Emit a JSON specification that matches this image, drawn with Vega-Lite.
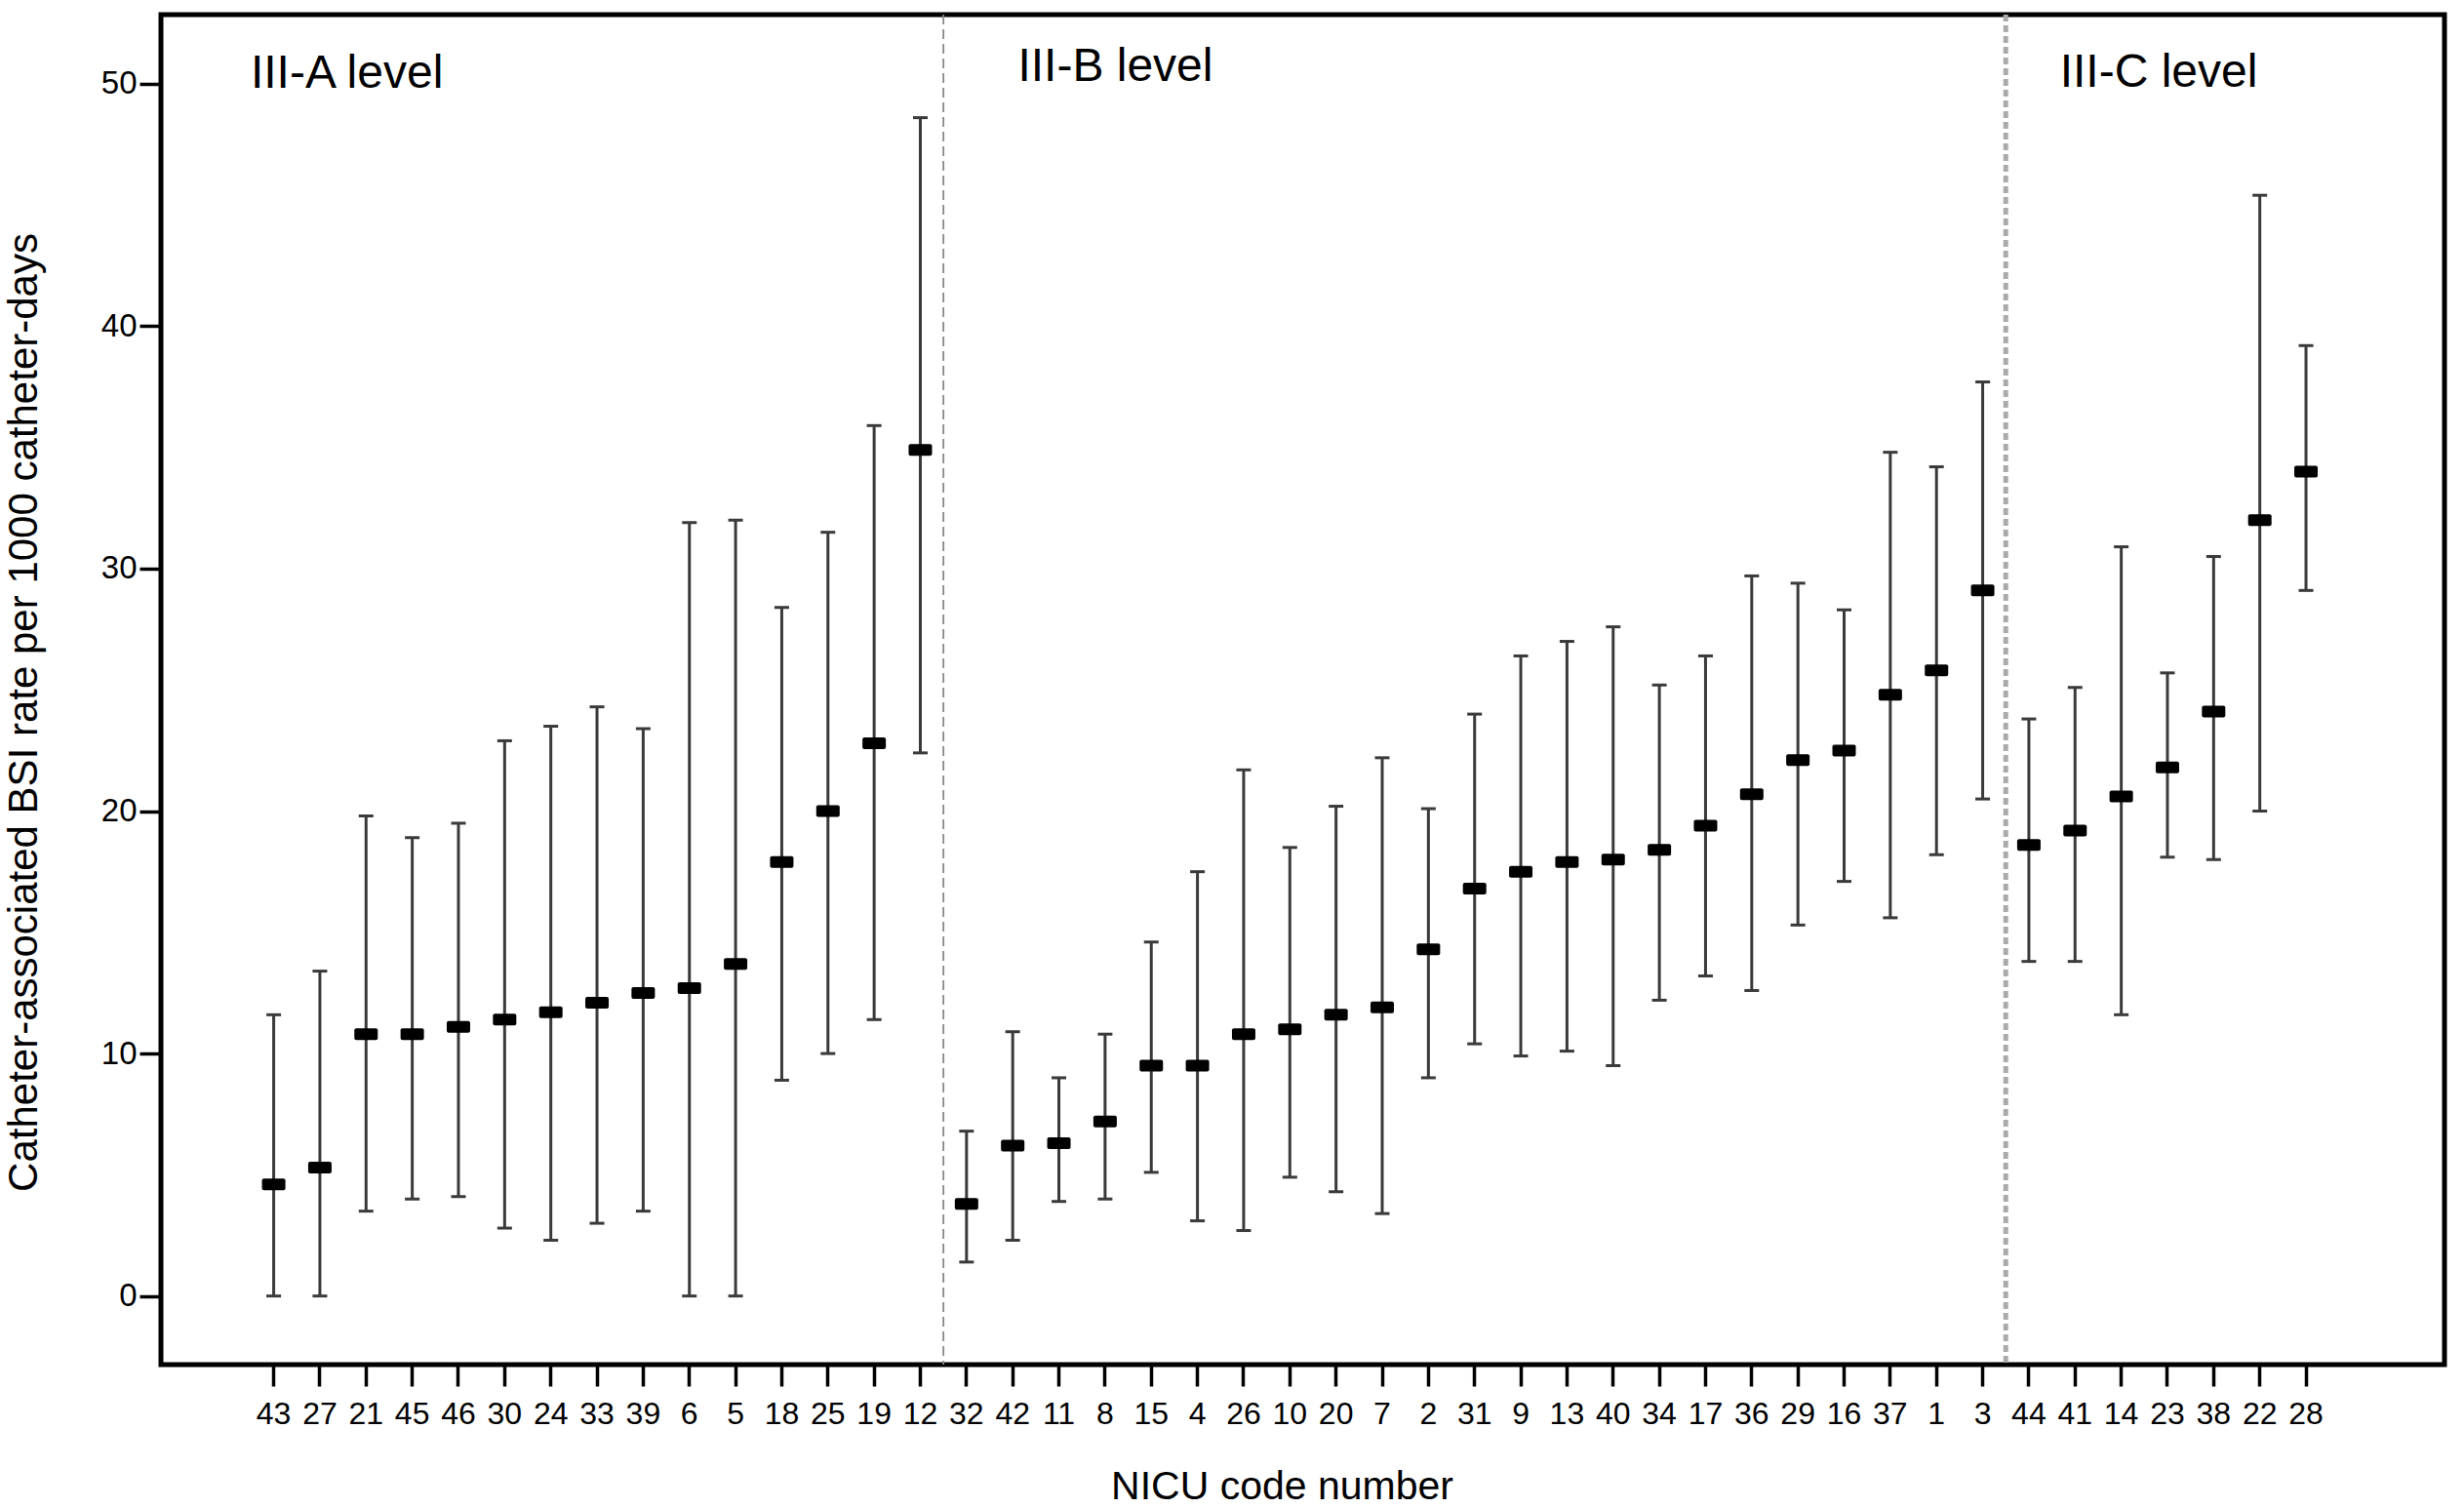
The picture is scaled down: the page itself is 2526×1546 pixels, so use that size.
{
  "$schema": "https://vega.github.io/schema/vega-lite/v6.json",
  "width": 2341,
  "height": 1384,
  "autosize": {"type": "none"},
  "padding": {"left": 165, "top": 15, "right": 20, "bottom": 147},
  "background": "white",
  "config": {
    "font": "Liberation Sans",
    "view": {"stroke": "#000000", "strokeWidth": 5},
    "axis": {"domain": false, "grid": false, "tickColor": "#000000", "labelColor": "#000000", "titleColor": "#000000", "labelFont": "Liberation Sans", "titleFont": "Liberation Sans", "titleFontWeight": "normal"}
  },
  "datasets": {
    "bars": [
      {"code": "43", "level": "III-A", "rate": 4.6, "lower": 0, "upper": 11.6},
      {"code": "27", "level": "III-A", "rate": 5.3, "lower": 0, "upper": 13.4},
      {"code": "21", "level": "III-A", "rate": 10.8, "lower": 3.5, "upper": 19.8},
      {"code": "45", "level": "III-A", "rate": 10.8, "lower": 4.0, "upper": 18.9},
      {"code": "46", "level": "III-A", "rate": 11.1, "lower": 4.1, "upper": 19.5},
      {"code": "30", "level": "III-A", "rate": 11.4, "lower": 2.8, "upper": 22.9},
      {"code": "24", "level": "III-A", "rate": 11.7, "lower": 2.3, "upper": 23.5},
      {"code": "33", "level": "III-A", "rate": 12.1, "lower": 3.0, "upper": 24.3},
      {"code": "39", "level": "III-A", "rate": 12.5, "lower": 3.5, "upper": 23.4},
      {"code": "6", "level": "III-A", "rate": 12.7, "lower": 0, "upper": 31.9},
      {"code": "5", "level": "III-A", "rate": 13.7, "lower": 0, "upper": 32.0},
      {"code": "18", "level": "III-A", "rate": 17.9, "lower": 8.9, "upper": 28.4},
      {"code": "25", "level": "III-A", "rate": 20.0, "lower": 10.0, "upper": 31.5},
      {"code": "19", "level": "III-A", "rate": 22.8, "lower": 11.4, "upper": 35.9},
      {"code": "12", "level": "III-A", "rate": 34.9, "lower": 22.4, "upper": 48.6},
      {"code": "32", "level": "III-B", "rate": 3.8, "lower": 1.4, "upper": 6.8},
      {"code": "42", "level": "III-B", "rate": 6.2, "lower": 2.3, "upper": 10.9},
      {"code": "11", "level": "III-B", "rate": 6.3, "lower": 3.9, "upper": 9.0},
      {"code": "8", "level": "III-B", "rate": 7.2, "lower": 4.0, "upper": 10.8},
      {"code": "15", "level": "III-B", "rate": 9.5, "lower": 5.1, "upper": 14.6},
      {"code": "4", "level": "III-B", "rate": 9.5, "lower": 3.1, "upper": 17.5},
      {"code": "26", "level": "III-B", "rate": 10.8, "lower": 2.7, "upper": 21.7},
      {"code": "10", "level": "III-B", "rate": 11.0, "lower": 4.9, "upper": 18.5},
      {"code": "20", "level": "III-B", "rate": 11.6, "lower": 4.3, "upper": 20.2},
      {"code": "7", "level": "III-B", "rate": 11.9, "lower": 3.4, "upper": 22.2},
      {"code": "2", "level": "III-B", "rate": 14.3, "lower": 9.0, "upper": 20.1},
      {"code": "31", "level": "III-B", "rate": 16.8, "lower": 10.4, "upper": 24.0},
      {"code": "9", "level": "III-B", "rate": 17.5, "lower": 9.9, "upper": 26.4},
      {"code": "13", "level": "III-B", "rate": 17.9, "lower": 10.1, "upper": 27.0},
      {"code": "40", "level": "III-B", "rate": 18.0, "lower": 9.5, "upper": 27.6},
      {"code": "34", "level": "III-B", "rate": 18.4, "lower": 12.2, "upper": 25.2},
      {"code": "17", "level": "III-B", "rate": 19.4, "lower": 13.2, "upper": 26.4},
      {"code": "36", "level": "III-B", "rate": 20.7, "lower": 12.6, "upper": 29.7},
      {"code": "29", "level": "III-B", "rate": 22.1, "lower": 15.3, "upper": 29.4},
      {"code": "16", "level": "III-B", "rate": 22.5, "lower": 17.1, "upper": 28.3},
      {"code": "37", "level": "III-B", "rate": 24.8, "lower": 15.6, "upper": 34.8},
      {"code": "1", "level": "III-B", "rate": 25.8, "lower": 18.2, "upper": 34.2},
      {"code": "3", "level": "III-B", "rate": 29.1, "lower": 20.5, "upper": 37.7},
      {"code": "44", "level": "III-C", "rate": 18.6, "lower": 13.8, "upper": 23.8},
      {"code": "41", "level": "III-C", "rate": 19.2, "lower": 13.8, "upper": 25.1},
      {"code": "14", "level": "III-C", "rate": 20.6, "lower": 11.6, "upper": 30.9},
      {"code": "23", "level": "III-C", "rate": 21.8, "lower": 18.1, "upper": 25.7},
      {"code": "38", "level": "III-C", "rate": 24.1, "lower": 18.0, "upper": 30.5},
      {"code": "22", "level": "III-C", "rate": 32.0, "lower": 20.0, "upper": 45.4},
      {"code": "28", "level": "III-C", "rate": 34.0, "lower": 29.1, "upper": 39.2}
    ]
  },
  "layer": [
    {
      "data": {"name": "bars"},
      "mark": {"type": "rule", "color": "#3a3a3a", "strokeWidth": 3, "opacity": 1},
      "encoding": {
        "x": {
          "field": "code", "type": "nominal", "sort": null,
          "scale": {"type": "band", "domain": ["43","27","21","45","46","30","24","33","39","6","5","18","25","19","12","32","42","11","8","15","4","26","10","20","7","2","31","9","13","40","34","17","36","29","16","37","1","3","44","41","14","23","38","22","28"], "range": [91.9, 2222.7], "paddingInner": 0, "paddingOuter": 0},
          "axis": {"title": "NICU code number", "titleFontSize": 41, "titlePadding": 39, "titleX": 1149, "labelFontSize": 32, "labelAngle": 0, "labelPadding": 13, "tickSize": 22, "tickWidth": 3.5, "labelOverlap": false}
        },
        "y": {
          "field": "lower", "type": "quantitative",
          "scale": {"domain": [-2.83, 52.85], "nice": false, "zero": false},
          "axis": {"title": "Catheter-associated BSI rate per 1000 catheter-days", "titleFontSize": 42, "titlePadding": 57, "titleY": 715, "values": [0, 10, 20, 30, 40, 50], "labelFontSize": 33, "labelPadding": 3, "tickSize": 22, "tickWidth": 3.5}
        },
        "y2": {"field": "upper"}
      }
    },
    {
      "data": {"name": "bars"},
      "mark": {"type": "tick", "color": "#3a3a3a", "size": 15, "thickness": 3, "orient": "horizontal", "opacity": 1},
      "encoding": {
        "x": {"field": "code", "type": "nominal", "sort": null},
        "y": {"field": "lower", "type": "quantitative"}
      }
    },
    {
      "data": {"name": "bars"},
      "mark": {"type": "tick", "color": "#3a3a3a", "size": 15, "thickness": 3, "orient": "horizontal", "opacity": 1},
      "encoding": {
        "x": {"field": "code", "type": "nominal", "sort": null},
        "y": {"field": "upper", "type": "quantitative"}
      }
    },
    {
      "data": {"name": "bars"},
      "mark": {"type": "tick", "color": "#000000", "size": 24, "thickness": 12, "cornerRadius": 2, "orient": "horizontal", "opacity": 1},
      "encoding": {
        "x": {"field": "code", "type": "nominal", "sort": null},
        "y": {"field": "rate", "type": "quantitative"}
      }
    },
    {
      "data": {"values": [{}]},
      "mark": {"type": "rule", "color": "#888888", "strokeWidth": 1.8, "strokeDash": [10, 5]},
      "encoding": {"x": {"datum": "32", "type": "nominal", "bandPosition": 0}}
    },
    {
      "data": {"values": [{}]},
      "mark": {"type": "rule", "color": "#aaaaaa", "strokeWidth": 5, "strokeDash": [7, 4]},
      "encoding": {"x": {"datum": "44", "type": "nominal", "bandPosition": 0}}
    },
    {
      "data": {"values": [{}]},
      "mark": {"type": "text", "fontSize": 48, "align": "left", "baseline": "middle", "color": "#000000"},
      "encoding": {
        "x": {"datum": "43", "type": "nominal", "bandPosition": 0},
        "y": {"datum": 50.38, "type": "quantitative"},
        "text": {"datum": "III-A level"}
      }
    },
    {
      "data": {"values": [{}]},
      "mark": {"type": "text", "fontSize": 48, "align": "left", "baseline": "middle", "color": "#000000"},
      "encoding": {
        "x": {"datum": "42", "type": "nominal", "bandPosition": 0.61},
        "y": {"datum": 50.66, "type": "quantitative"},
        "text": {"datum": "III-B level"}
      }
    },
    {
      "data": {"values": [{}]},
      "mark": {"type": "text", "fontSize": 48, "align": "left", "baseline": "middle", "color": "#000000"},
      "encoding": {
        "x": {"datum": "41", "type": "nominal", "bandPosition": 0.17},
        "y": {"datum": 50.43, "type": "quantitative"},
        "text": {"datum": "III-C level"}
      }
    }
  ]
}
